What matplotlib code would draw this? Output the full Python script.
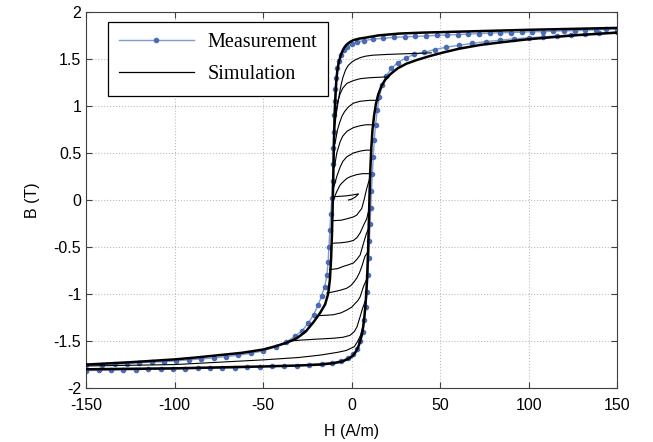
"""
B-H hysteresis chart: measurement vs. simulation (with demagnetising minor loops)
"""

import matplotlib.pyplot as plt

# --- measurement, major loop (descending then ascending branch) ---
meas_desc_h = [150, 144, 138, 132, 126, 120, 114, 108, 102, 96, 90, 84, 78, 72, 66, 60,
               54, 48, 42, 36, 30, 24, 18, 12, 7, 3, 0, -2.5, -4.5, -6, -7, -8, -8.8,
               -9.3, -9.6, -9.9, -10.2, -10.5, -10.6, -10.8, -11.2, -11.8, -12.3, -12.8,
               -13.3, -14, -15.2, -17, -19, -21.5, -24.5, -28, -32, -37, -43, -50, -57,
               -64, -71, -78, -85, -92, -99, -106, -113, -120, -127, -134, -141, -150]
meas_desc_b = [1.82, 1.815, 1.81, 1.805, 1.80, 1.80, 1.795, 1.79, 1.79, 1.785, 1.78,
               1.78, 1.775, 1.77, 1.765, 1.76, 1.755, 1.75, 1.745, 1.74, 1.735, 1.73,
               1.72, 1.71, 1.695, 1.68, 1.66, 1.63, 1.59, 1.54, 1.48, 1.40, 1.30, 1.18,
               1.05, 0.90, 0.72, 0.55, 0.38, 0.20, 0.02, -0.15, -0.32, -0.50, -0.66,
               -0.80, -0.92, -1.02, -1.12, -1.22, -1.31, -1.39, -1.45, -1.51, -1.56,
               -1.605, -1.63, -1.65, -1.665, -1.68, -1.69, -1.70, -1.71, -1.72, -1.725,
               -1.73, -1.74, -1.745, -1.75, -1.755]
meas_asc_h = [-150, -143, -136, -129, -122, -115, -108, -101, -94, -87, -80, -73, -66,
              -59, -52, -45, -38, -31, -24, -17, -11, -6, -2, 1, 3.3, 5, 6.2, 7.2, 8,
              8.7, 9.2, 9.6, 10, 10.4, 10.8, 11.2, 11.7, 12.2, 12.8, 13.5, 14.5, 15.7,
              17.3, 19.5, 22.5, 26, 30.5, 35.5, 41, 47, 53.5, 60.5, 68, 76, 84, 92, 100,
              108, 116, 124, 132, 140, 150]
meas_asc_b = [-1.815, -1.81, -1.81, -1.805, -1.805, -1.80, -1.80, -1.795, -1.795, -1.79,
              -1.79, -1.785, -1.785, -1.78, -1.775, -1.77, -1.765, -1.76, -1.75, -1.74,
              -1.73, -1.71, -1.68, -1.64, -1.58, -1.50, -1.40, -1.28, -1.14, -0.98,
              -0.80, -0.62, -0.44, -0.26, -0.08, 0.10, 0.28, 0.46, 0.64, 0.80, 0.96,
              1.10, 1.22, 1.32, 1.40, 1.46, 1.51, 1.55, 1.57, 1.60, 1.625, 1.645, 1.665,
              1.685, 1.70, 1.715, 1.725, 1.735, 1.745, 1.755, 1.765, 1.775, 1.785]

# --- simulation, major loop ---
sim_desc_h = [150, 125, 100, 80, 60, 40, 27, 15, 9, 4, 1, -1, -3, -4.2, -5.3, -6.3,
              -7.2, -8, -8.6, -9.1, -9.5, -9.8, -10.1, -10.4, -10.7, -11.1, -11.6, -12.3,
              -13.3, -15, -17.8, -21.6, -26, -31, -37, -44, -50, -62, -75, -88, -100,
              -125, -150]
sim_desc_b = [1.83, 1.82, 1.81, 1.80, 1.79, 1.78, 1.77, 1.75, 1.73, 1.715, 1.70, 1.68,
              1.65, 1.62, 1.58, 1.53, 1.47, 1.39, 1.28, 1.12, 0.95, 0.75, 0.50, 0.22,
              -0.05, -0.35, -0.62, -0.85, -1.0, -1.11, -1.20, -1.30, -1.40, -1.47, -1.52,
              -1.56, -1.59, -1.625, -1.65, -1.675, -1.695, -1.725, -1.75]
sim_asc_h = [-150, -125, -100, -75, -50, -30, -18, -10, -5, -2, 0.5, 2.5, 3.8, 4.8, 5.7,
             6.5, 7.2, 7.8, 8.3, 8.8, 9.3, 9.7, 10.1, 10.5, 11.1, 11.8, 12.7, 13.7, 15,
             16.8, 19, 22, 26, 31, 37, 44, 52, 61, 73, 86, 100, 125, 150]
sim_asc_b = [-1.80, -1.795, -1.79, -1.78, -1.77, -1.76, -1.75, -1.735, -1.715, -1.69,
             -1.66, -1.61, -1.56, -1.50, -1.44, -1.35, -1.24, -1.12, -0.98, -0.80, -0.55,
             -0.25, 0.05, 0.30, 0.55, 0.75, 0.90, 1.02, 1.12, 1.21, 1.28, 1.34, 1.40,
             1.45, 1.49, 1.53, 1.57, 1.61, 1.65, 1.68, 1.71, 1.75, 1.78]

# --- simulation, minor curves (descending ones above, ascending ones below) ---
minor_curves = [
    # descending from the ascending branch
    ([45, 38, 30, 20, 12, 8, 5, 2, 0, -2, -3.5, -5, -6, -7, -8, -8.8, -9.4],
     [1.565, 1.56, 1.555, 1.548, 1.54, 1.53, 1.515, 1.49, 1.465, 1.43, 1.38, 1.30,
      1.22, 1.12, 1.0, 0.9, 0.8]),
    ([21, 15, 10, 4.8, 1, -2.7, -5, -6.5, -7.6, -8.4, -9.4],
     [1.31, 1.305, 1.30, 1.29, 1.27, 1.24, 1.19, 1.13, 1.06, 0.99, 0.85]),
    ([15.2, 10, 4.8, 1, -1.8, -4, -5.5, -7, -8, -9.4],
     [1.06, 1.06, 1.05, 1.03, 0.99, 0.94, 0.89, 0.81, 0.745, 0.60]),
    ([12.7, 8, 4.8, 1, -2.7, -5, -6.5, -8.4, -9.7],
     [0.80, 0.80, 0.79, 0.77, 0.73, 0.68, 0.62, 0.50, 0.35]),
    ([11.4, 8, 4.8, 1, -2.7, -5, -6.5, -8.4, -10],
     [0.53, 0.53, 0.52, 0.50, 0.46, 0.41, 0.35, 0.25, 0.14]),
    ([10.5, 6, 2.9, -0.5, -2.7, -5, -6.5, -8.4, -10.4],
     [0.28, 0.28, 0.27, 0.25, 0.23, 0.19, 0.16, 0.09, 0.0]),
    # small hook near the origin
    ([-10.2, -6, -2.7, 1, 3.9, 2, -0.5, -1.8],
     [0.035, 0.04, 0.045, 0.055, 0.065, 0.03, 0.005, 0.0]),
    # ascending from the descending branch
    ([-10.6, -6, -2.7, 1, 2.9, 4.5, 5.7, 7, 8.5, 10.5],
     [-0.22, -0.215, -0.20, -0.18, -0.16, -0.12, -0.09, 0.0, 0.12, 0.25]),
    ([-11.2, -6, -2, 1, 3, 4.8, 6.7, 8.5, 9.8],
     [-0.46, -0.455, -0.445, -0.43, -0.40, -0.35, -0.27, -0.2, -0.1]),
    ([-12.5, -8, -5.3, -2, 1, 3, 4.8, 6.7, 8.3, 9.6],
     [-0.74, -0.73, -0.71, -0.69, -0.67, -0.63, -0.585, -0.46, -0.36, -0.30]),
    ([-14, -10, -6.5, -3, -0.8, 1, 2.9, 4.5, 5.7, 7.5, 9.2],
     [-0.99, -0.975, -0.96, -0.94, -0.915, -0.88, -0.83, -0.77, -0.71, -0.60, -0.55]),
    ([-19, -14, -10.3, -6, -2.7, 0, 2, 3.5, 4.8, 6.7, 8.3],
     [-1.23, -1.225, -1.22, -1.20, -1.17, -1.14, -1.10, -1.07, -1.03, -0.92, -0.85]),
    ([-35, -29, -20, -10.3, -5, -1, 1.5, 3, 4.8, 6.2, 7.6],
     [-1.50, -1.49, -1.48, -1.47, -1.46, -1.44, -1.40, -1.35, -1.24, -1.15, -1.08]),
    ([-150, -100, -50, -30, -18, -8, -3, 1.5, 3.5, 5, 6.2],
     [-1.765, -1.75, -1.70, -1.675, -1.65, -1.62, -1.60, -1.56, -1.50, -1.44, -1.36]),
]

x_ticks = [-150, -100, -50, 0, 50, 100, 150]
y_ticks = [-2, -1.5, -1, -0.5, 0, 0.5, 1, 1.5, 2]
y_tick_labels = ["-2", "-1.5", "-1", "-0.5", "0", "0.5", "1", "1.5", "2"]

plt.rcParams["font.family"] = ["Liberation Sans", "DejaVu Sans"]
plt.rcParams["axes.unicode_minus"] = False

fig = plt.figure(figsize=(6.53, 4.42), dpi=100)
ax = fig.add_axes([0.132, 0.122, 0.813, 0.851])

# measurement: thin blue line with dots
ax.plot(meas_desc_h + meas_asc_h, meas_desc_b + meas_asc_b, color="#7f9bd0",
        linewidth=1.0, marker="o", markersize=3.0, markerfacecolor="#4a6db5",
        markeredgecolor="#4a6db5", label="Measurement", zorder=2)

# simulation: major loop thick, minor curves thin
ax.plot(sim_desc_h, sim_desc_b, color="black", linewidth=1.8, zorder=3)
ax.plot(sim_asc_h, sim_asc_b, color="black", linewidth=1.8, zorder=3)
for h, b in minor_curves:
    ax.plot(h, b, color="black", linewidth=0.8, zorder=3)
ax.plot([], [], color="black", linewidth=0.9, label="Simulation")

ax.set_xlim(-150, 150)
ax.set_ylim(-2, 2)
ax.set_xticks(x_ticks)
ax.set_yticks(y_ticks)
ax.set_yticklabels(y_tick_labels)
ax.tick_params(direction="in", top=True, right=True, length=4, labelsize=11.5,
               color="0.25")
ax.tick_params(axis="x", pad=7)
ax.grid(True, linestyle=":", color="#bdbdbd", linewidth=0.8)
for spine in ax.spines.values():
    spine.set_color("0.25")
    spine.set_linewidth(0.8)

ax.set_xlabel("H (A/m)", fontsize=11.5, labelpad=8)
ax.set_ylabel("B (T)", fontsize=11.5, labelpad=10)

leg = ax.legend(loc="upper left", bbox_to_anchor=(0.041, 0.973), borderaxespad=0,
                prop={"family": "Liberation Serif", "size": 14.5}, fancybox=False,
                edgecolor="black", framealpha=1, handlelength=3.7,
                handletextpad=0.7, labelspacing=0.65, borderpad=0.55)
leg.get_frame().set_linewidth(0.9)

fig.savefig("out.png", dpi=100)
